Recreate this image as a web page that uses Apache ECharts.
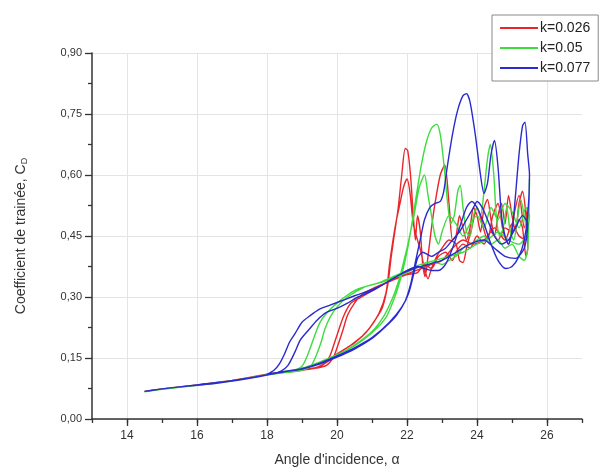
<!DOCTYPE html>
<html>
<head>
<meta charset="utf-8">
<script src="https://cdn.jsdelivr.net/npm/echarts@6/dist/echarts.min.js"></script>
<style>html,body{margin:0;padding:0;background:#fff}#c{width:605px;height:476px}</style>
</head>
<body>
<div id="c"></div>
<script>
// ---- data ----
var seriesNames = ['k=0.026', 'k=0.05', 'k=0.077'];
var xTickLabels = [14, 16, 18, 20, 22, 24, 26];
var yTickLabels = [0, 0.15, 0.30, 0.45, 0.60, 0.75, 0.90];

var redData = [
 [14.5,0.068],[15,0.074],[15.5,0.079],[16,0.084],[16.5,0.089],[17,0.095],[17.5,0.102],[18,0.11],
 [18.5,0.115],[19,0.12],[19.4,0.126],[19.7,0.14],[20,0.16],[20.4,0.182],[20.8,0.21],[21.1,0.245],[21.3,0.275],[21.45,0.33],[21.55,0.4],[21.65,0.46],[21.75,0.52],[21.85,0.6],[21.95,0.665],[22.02,0.66],[22.1,0.6],[22.18,0.5],[22.24,0.44],[22.3,0.5],[22.38,0.46],[22.45,0.38],[22.52,0.35],[22.6,0.4],[22.7,0.47],[22.8,0.53],[22.95,0.6],[23.08,0.625],[23.2,0.53],[23.3,0.44],[23.4,0.45],[23.5,0.5],[23.6,0.47],[23.7,0.44],[23.8,0.47],[23.9,0.52],[24.0,0.5],[24.1,0.46],[24.2,0.52],[24.3,0.54],[24.4,0.49],[24.5,0.45],[24.6,0.5],[24.7,0.53],[24.8,0.48],[24.9,0.55],[25.0,0.5],[25.1,0.46],[25.2,0.53],[25.3,0.56],[25.4,0.5],[25.45,0.42],
 [25.4,0.40],[25.3,0.47],[25.2,0.49],[25.0,0.46],[24.8,0.47],[24.6,0.44],[24.4,0.46],[24.2,0.43],[24.0,0.45],[23.8,0.42],[23.6,0.43],[23.4,0.41],[23.3,0.39],[23.1,0.41],[22.9,0.40],[22.7,0.37],[22.5,0.38],[22.3,0.36],[22.0,0.355],[21.7,0.345],[21.3,0.33],[21.0,0.315],[20.7,0.30],[20.4,0.285],[20.2,0.255],[20.05,0.219],[19.9,0.18],[19.78,0.152],[19.6,0.133],[19.3,0.124],[19.0,0.12],[18.5,0.115],[18,0.11],
 [18.5,0.116],[19,0.121],[19.5,0.129],[19.8,0.145],[20.1,0.165],[20.5,0.187],[20.9,0.22],[21.2,0.26],[21.4,0.31],[21.5,0.38],[21.6,0.44],[21.7,0.49],[21.8,0.53],[21.9,0.57],[22.0,0.59],[22.08,0.56],[22.18,0.48],[22.3,0.44],[22.4,0.41],[22.5,0.37],[22.6,0.345],[22.7,0.37],[22.85,0.4],[23.0,0.42],[23.2,0.44],[23.4,0.43],[23.5,0.39],[23.6,0.385],[23.7,0.42],[23.85,0.47],[24.0,0.52],[24.15,0.48],[24.3,0.44],[24.45,0.5],[24.6,0.53],[24.75,0.46],[24.9,0.43],[25.05,0.5],[25.2,0.55],[25.35,0.47],[25.45,0.52],
 [25.4,0.44],[25.2,0.45],[25.0,0.48],[24.8,0.44],[24.5,0.47],[24.2,0.44],[23.9,0.43],[23.6,0.44],[23.3,0.42],[23.0,0.39],[22.7,0.38],[22.4,0.37],[22.1,0.36],[21.8,0.35],[21.4,0.335],[21.0,0.32],[20.7,0.305],[20.5,0.285],[20.3,0.255],[20.17,0.219],[20.02,0.18],[19.9,0.152],[19.7,0.132],[19.4,0.125],[19,0.12],[18.5,0.116],[18,0.11],[17,0.095],[16,0.084],[15,0.074],[14.6,0.069]
];

var greenData = [
 [14.5,0.067],[15,0.073],[15.5,0.078],[16,0.083],[16.5,0.088],[17,0.094],[17.5,0.101],[18,0.109],
 [18.5,0.117],[19,0.125],[19.5,0.14],[20,0.158],[20.5,0.18],[21,0.212],[21.4,0.25],[21.65,0.3],[21.8,0.34],[21.92,0.38],[22.02,0.42],[22.12,0.47],[22.25,0.54],[22.4,0.62],[22.55,0.68],[22.7,0.715],[22.85,0.725],[22.95,0.7],[23.05,0.63],[23.15,0.54],[23.25,0.48],[23.35,0.5],[23.45,0.56],[23.52,0.575],[23.6,0.52],[23.7,0.46],[23.8,0.45],[23.9,0.5],[24.0,0.52],[24.1,0.5],[24.2,0.56],[24.3,0.64],[24.38,0.675],[24.48,0.6],[24.55,0.5],[24.65,0.45],[24.75,0.47],[24.85,0.52],[24.95,0.46],[25.05,0.44],[25.15,0.49],[25.25,0.54],[25.35,0.5],[25.45,0.45],[25.5,0.59],
 [25.45,0.42],[25.35,0.39],[25.2,0.40],[25.0,0.43],[24.8,0.42],[24.6,0.44],[24.4,0.43],[24.2,0.45],[24.0,0.44],[23.8,0.43],[23.6,0.42],[23.4,0.40],[23.2,0.39],[23.0,0.38],[22.8,0.385],[22.6,0.38],[22.4,0.375],[22.2,0.37],[22.0,0.36],[21.7,0.35],[21.4,0.34],[21.0,0.33],[20.6,0.32],[20.3,0.305],[20.0,0.285],[19.7,0.26],[19.5,0.235],[19.3,0.19],[19.15,0.155],[19.0,0.13],[18.7,0.118],[18.3,0.112],[18,0.109],
 [18.5,0.116],[19,0.124],[19.5,0.138],[20,0.157],[20.5,0.182],[21,0.215],[21.35,0.255],[21.6,0.3],[21.78,0.345],[21.9,0.385],[22.0,0.42],[22.1,0.46],[22.2,0.5],[22.35,0.57],[22.5,0.6],[22.6,0.55],[22.7,0.5],[22.8,0.45],[22.9,0.43],[23.0,0.46],[23.2,0.5],[23.4,0.48],[23.6,0.45],[23.8,0.48],[24.0,0.5],[24.2,0.47],[24.4,0.52],[24.6,0.49],[24.8,0.53],[25.0,0.51],[25.2,0.47],[25.4,0.52],[25.5,0.5],
 [25.4,0.45],[25.2,0.43],[24.9,0.44],[24.6,0.46],[24.3,0.44],[24.0,0.43],[23.6,0.41],[23.2,0.40],[22.8,0.39],[22.4,0.38],[22.0,0.365],[21.6,0.35],[21.2,0.335],[20.8,0.325],[20.3,0.3],[20.0,0.275],[19.8,0.25],[19.65,0.22],[19.55,0.19],[19.4,0.155],[19.25,0.13],[19.0,0.12],[18.5,0.114],[18,0.109],[17,0.094],[16,0.083],[15,0.073],[14.6,0.068]
];

var blueData = [
 [14.5,0.068],[15,0.074],[15.5,0.079],[16,0.083],[16.5,0.087],[17,0.093],[17.5,0.1],[18,0.108],
 [18.5,0.116],[19,0.123],[19.5,0.135],[20,0.152],[20.5,0.172],[21,0.198],[21.4,0.228],[21.7,0.255],[21.95,0.29],[22.1,0.33],[22.2,0.37],[22.3,0.41],[22.4,0.45],[22.5,0.49],[22.65,0.52],[22.8,0.53],[22.95,0.535],[23.05,0.56],[23.15,0.62],[23.3,0.7],[23.45,0.76],[23.6,0.795],[23.7,0.80],[23.8,0.78],[23.95,0.7],[24.1,0.6],[24.2,0.555],[24.3,0.58],[24.4,0.65],[24.5,0.685],[24.6,0.62],[24.7,0.5],[24.8,0.45],[24.9,0.43],[25.0,0.46],[25.1,0.55],[25.2,0.65],[25.3,0.72],[25.37,0.73],[25.45,0.65],[25.5,0.6],
 [25.45,0.5],[25.35,0.44],[25.2,0.40],[25.0,0.375],[24.82,0.37],[24.6,0.39],[24.4,0.43],[24.2,0.48],[24.0,0.52],[23.85,0.535],[23.7,0.52],[23.5,0.47],[23.3,0.42],[23.1,0.38],[22.9,0.365],[22.7,0.365],[22.5,0.37],[22.3,0.375],[22.0,0.365],[21.7,0.35],[21.3,0.33],[20.9,0.315],[20.5,0.303],[20.2,0.293],[19.8,0.28],[19.5,0.27],[19.2,0.252],[19.0,0.238],[18.8,0.21],[18.65,0.19],[18.5,0.16],[18.35,0.135],[18.2,0.12],[18.0,0.11],
 [18.5,0.117],[19,0.124],[19.5,0.137],[20,0.155],[20.5,0.175],[21,0.2],[21.5,0.238],[21.85,0.275],[22.05,0.31],[22.2,0.36],[22.3,0.395],[22.45,0.41],[22.7,0.40],[22.9,0.41],[23.1,0.42],[23.3,0.44],[23.5,0.46],[23.7,0.49],[23.9,0.52],[24.0,0.535],[24.15,0.52],[24.3,0.49],[24.5,0.45],[24.7,0.43],[24.9,0.44],[25.1,0.47],[25.3,0.5],[25.45,0.48],
 [25.35,0.42],[25.1,0.395],[24.8,0.4],[24.5,0.42],[24.2,0.44],[23.8,0.43],[23.4,0.41],[23.0,0.39],[22.6,0.38],[22.2,0.37],[21.8,0.355],[21.4,0.335],[21.0,0.315],[20.6,0.3],[20.3,0.285],[20.0,0.272],[19.7,0.262],[19.43,0.243],[19.2,0.22],[18.95,0.194],[18.8,0.165],[18.6,0.132],[18.4,0.118],[18.1,0.11],[17,0.094],[16,0.084],[15,0.074],[14.6,0.069]
];

var colors = ['#e8262b', '#3fdc3f', '#2a2ad0'];

// ---- chart ----
var chart = echarts.init(document.getElementById('c'), null, {renderer: 'canvas'});
var FONT = 'Liberation Sans, Arial, sans-serif';
function mkSeries(name, data, color) {
  return {
    name: name, type: 'line', data: data, xAxisIndex: 0, yAxisIndex: 0,
    showSymbol: false, symbol: 'none', smooth: 0.25,
    lineStyle: {color: color, width: 1.4}, itemStyle: {color: color},
    emphasis: {disabled: true}, animation: false
  };
}
chart.setOption({
  animation: false,
  backgroundColor: '#fff',
  textStyle: {fontFamily: FONT},
  grid: {left: 92, right: 23, top: 53, bottom: 57, containLabel: false},
  legend: {
    orient: 'vertical', left: 492, top: 15,
    data: seriesNames,
    icon: 'rect',
    itemWidth: 38, itemHeight: 2, itemGap: 4,
    padding: [5, 8, 5, 8],
    borderColor: '#8a8a8a', borderWidth: 1, backgroundColor: '#fff',
    textStyle: {fontSize: 14, lineHeight: 16, color: '#222', fontFamily: FONT, padding: [0, 0, 0, -3]}
  },
  xAxis: [{
    type: 'value', min: 13, max: 27, interval: 1, position: 'bottom',
    name: "Angle d'incidence, \u03b1", nameLocation: 'middle', nameGap: 34,
    nameTextStyle: {fontSize: 14, color: '#333', fontFamily: FONT},
    axisLine: {show: true, onZero: false, lineStyle: {color: '#333', width: 1.5}},
    axisTick: {show: true, length: 7, customValues: xTickLabels, lineStyle: {color: '#333', width: 1.3}},
    axisLabel: {customValues: xTickLabels, fontSize: 12, color: '#333', margin: 11},
    splitLine: {show: true, lineStyle: {color: '#e4e4e4', width: 1}}
  }, {
    type: 'value', min: 13, max: 27, interval: 1, position: 'bottom',
    axisLine: {show: false},
    axisTick: {show: true, length: 4, lineStyle: {color: '#333', width: 1.3}},
    axisLabel: {show: false},
    splitLine: {show: false}
  }],
  yAxis: [{
    type: 'value', min: 0, max: 0.9, interval: 0.15,
    name: 'Coefficient de trainée, C{sub|D}', nameLocation: 'middle', nameGap: 63, nameRotate: 90,
    nameTextStyle: {fontSize: 14, color: '#333', fontFamily: FONT,
      rich: {sub: {fontSize: 9, color: '#333', verticalAlign: 'bottom', padding: [6, 0, 0, 0]}}},
    axisLine: {show: true, onZero: false, lineStyle: {color: '#333', width: 1.5}},
    axisTick: {show: true, length: 7, lineStyle: {color: '#333', width: 1.3}},
    minorTick: {show: true, splitNumber: 2, length: 4, lineStyle: {color: '#333', width: 1.3}},
    axisLabel: {fontSize: 11, color: '#333', margin: 10,
      formatter: function (v) { return v.toFixed(2).replace('.', ','); }},
    splitLine: {show: true, lineStyle: {color: '#e4e4e4', width: 1}}
  }],
  series: [
    mkSeries(seriesNames[0], redData, colors[0]),
    mkSeries(seriesNames[1], greenData, colors[1]),
    mkSeries(seriesNames[2], blueData, colors[2])
  ]
});
</script>
</body>
</html>
